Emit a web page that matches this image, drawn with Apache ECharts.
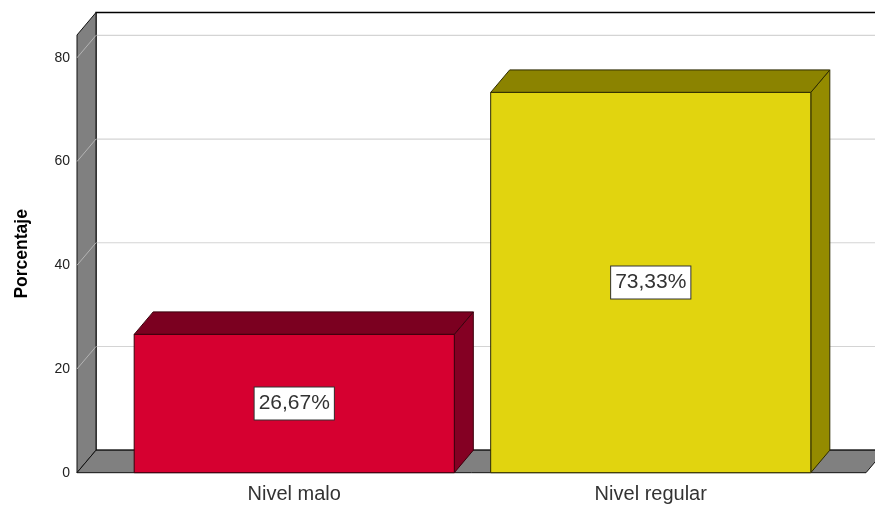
<!DOCTYPE html>
<html><head><meta charset="utf-8">
<script src="https://cdn.jsdelivr.net/npm/echarts@6/dist/echarts.min.js"></script>
<style>html,body{margin:0;padding:0;background:#fff}#c{width:875px;height:506px}</style>
</head><body><div id="c"></div>
<script>
// ---- data ----
const categories = ['Nivel malo', 'Nivel regular'];
const percentages = [26.67, 73.33];
const yTicks = [0, 20, 40, 60, 80];
const yMax = 84.4;
const yTitle = 'Porcentaje';

// ---- styles ----
const FONT = 'Arial, "Liberation Sans", sans-serif';
const DX = 19, DY = -22.5;           // 3D depth offset
const WALL_LEFT_OFFSET = 39;         // floor front-left is left of grid
const WALL_RIGHT_OFFSET = 37;
const barColors = [
  { front: '#d60030', top: '#7b0020', side: '#840023', edge: '#3a000c' },
  { front: '#e1d40f', top: '#8b8300', side: '#948b00', edge: '#2e2b00' }
];

const chart = echarts.init(document.getElementById('c'), null, { renderer: 'canvas' });

function renderBackground(params, api) {
  const cs = params.coordSys;
  const fl = cs.x - WALL_LEFT_OFFSET;
  const fr = cs.x + cs.width + WALL_RIGHT_OFFSET;
  const y0 = api.coord([0, 0])[1];
  const yT = api.coord([0, yMax])[1];
  const farRight = 900;
  const children = [];
  children.push({ type: 'rect', shape: { x: fl + DX, y: yT + DY, width: farRight - (fl + DX), height: y0 - yT },
    style: { fill: '#ffffff', stroke: '#000', lineWidth: 1.3 } });
  yTicks.forEach(t => {
    if (t === 0) return;
    const y = api.coord([0, t])[1];
    children.push({ type: 'line', shape: { x1: fl + DX, y1: y + DY, x2: farRight, y2: y + DY },
      style: { stroke: '#d4d4d4', lineWidth: 1.2 } });
  });
  children.push({ type: 'polygon', shape: { points: [[fl, y0], [fl, yT], [fl + DX, yT + DY], [fl + DX, y0 + DY]] },
    style: { fill: '#808080', stroke: '#111', lineWidth: 1 } });
  yTicks.forEach(t => {
    if (t === 0) return;
    const y = api.coord([0, t])[1];
    children.push({ type: 'line', shape: { x1: fl, y1: y, x2: fl + DX, y2: y + DY },
      style: { stroke: '#b4b4b4', lineWidth: 1 } });
  });
  children.push({ type: 'polygon', shape: { points: [[fl, y0], [fr, y0], [fr + DX, y0 + DY], [fl + DX, y0 + DY]] },
    style: { fill: '#808080', stroke: '#111', lineWidth: 1 } });
  return { type: 'group', children };
}

function renderBar(params, api) {
  const i = api.value(0);
  const v = api.value(1);
  const top = api.coord([i, v]);
  const base = api.coord([i, 0]);
  const w = api.size([1, 0])[0] * 0.898;
  const x1 = top[0] - w / 2, x2 = top[0] + w / 2;
  const yt = top[1], yb = base[1];
  const c = barColors[params.dataIndex % barColors.length];
  const label = v.toFixed(2).replace('.', ',') + '%';
  return {
    type: 'group',
    children: [
      { type: 'polygon', shape: { points: [[x2, yb], [x2, yt], [x2 + DX, yt + DY], [x2 + DX, yb + DY]] },
        style: { fill: c.side, stroke: c.edge, lineWidth: 1 } },
      { type: 'polygon', shape: { points: [[x1, yt], [x2, yt], [x2 + DX, yt + DY], [x1 + DX, yt + DY]] },
        style: { fill: c.top, stroke: c.edge, lineWidth: 1 } },
      { type: 'rect', shape: { x: x1, y: yt, width: w, height: yb - yt },
        style: { fill: c.front, stroke: c.edge, lineWidth: 1 } },
      { type: 'text', x: top[0], y: (yt + yb) / 2,
        style: { text: label, align: 'center', verticalAlign: 'middle', fill: '#333',
          font: '21px ' + FONT, backgroundColor: '#fff', borderColor: '#333', borderWidth: 1,
          padding: [6, 4, 5, 4] } }
    ]
  };
}

chart.setOption({
  animation: false,
  backgroundColor: '#fff',
  grid: { left: 116, right: 46, top: 35, bottom: 33.3, outerBoundsMode: 'none', containLabel: false },
  xAxis: {
    type: 'category', data: categories,
    axisLine: { show: false }, axisTick: { show: false }, splitLine: { show: false },
    axisLabel: { fontSize: 20, color: '#333', fontFamily: FONT, margin: 12 }
  },
  yAxis: {
    type: 'value', min: 0, max: yMax, interval: 20, offset: WALL_LEFT_OFFSET,
    name: yTitle, nameLocation: 'middle', nameGap: 46,
    nameTextStyle: { fontSize: 17.5, fontWeight: 'bold', color: '#000', fontFamily: FONT },
    axisLine: { show: false }, axisTick: { show: false }, splitLine: { show: false },
    axisLabel: { fontSize: 14, color: '#222', fontFamily: FONT, margin: 7, showMaxLabel: false,
      padding: [7, 0, 0, 0],
      formatter: v => yTicks.includes(v) ? String(v) : '' }
  },
  series: [
    { type: 'custom', z: 1, silent: true, clip: false, renderItem: renderBackground, data: [[0, 0]] },
    { type: 'custom', z: 2, silent: true, clip: false, renderItem: renderBar,
      data: percentages.map((v, i) => [i, v]) }
  ]
});
</script></body></html>
